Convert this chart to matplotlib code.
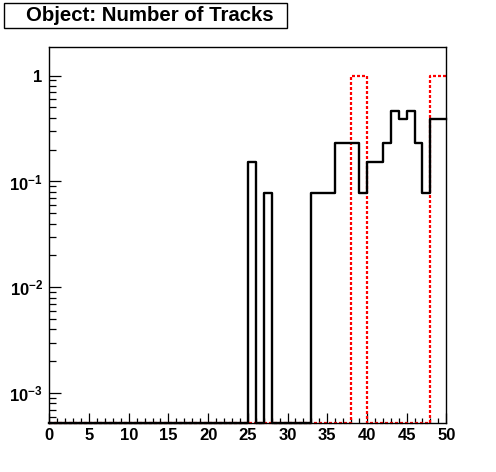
import numpy as np
import matplotlib
matplotlib.use("Agg")
import matplotlib.pyplot as plt
from matplotlib.ticker import FixedLocator, LogLocator, MultipleLocator
from matplotlib.patches import Rectangle

plt.rcParams['font.family'] = ['Liberation Sans', 'DejaVu Sans']
plt.rcParams['font.weight'] = 'bold'
plt.rcParams['mathtext.fontset'] = 'custom'
plt.rcParams['mathtext.rm'] = 'Liberation Sans:bold'
plt.rcParams['mathtext.bf'] = 'Liberation Sans:bold'
plt.rcParams['mathtext.it'] = 'Liberation Sans:bold'

title = "Object: Number of Tracks"

bin_edges = np.arange(0, 51, 1)
black_values = [0.0] * 25 + [
    0.154, 0.0, 0.077, 0.0, 0.0, 0.0, 0.0, 0.0,
    0.077, 0.077, 0.077, 0.23, 0.23, 0.23, 0.077,
    0.154, 0.154, 0.23, 0.46, 0.385, 0.46, 0.23, 0.077,
    0.385, 0.385]
red_values = [0.0] * 38 + [1.0, 1.0] + [0.0] * 8 + [1.0, 1.0]

y_ticks = [1e-3, 1e-2, 1e-1, 1.0]
y_tick_labels = [r'$10^{-3}$', r'$10^{-2}$', r'$10^{-1}$', r'$1$']
x_ticks = [0, 5, 10, 15, 20, 25, 30, 35, 40, 45, 50]

ymin, ymax = 5.2e-4, 1.85

W, H = 496, 472
fig = plt.figure(figsize=(W / 100, H / 100), dpi=100)
ax = fig.add_axes([49.3 / W, 1 - 423.3 / H, (446.3 - 49.3) / W, (423.3 - 47.3) / H])
ax.set_yscale('log')
ax.set_xlim(0, 50)
ax.set_ylim(ymin, ymax)

def step_xy(vals):
    v = np.maximum(np.asarray(vals, dtype=float), ymin)
    return bin_edges, np.append(v, v[-1])

xr, yr = step_xy(red_values)
ax.step(xr, yr, where='post', color='#ff0000', lw=1.6,
        linestyle=(0, (1.35, 0.9)), zorder=2, clip_on=False)
xb, yb = step_xy(black_values)
ax.step(xb, yb, where='post', color='black', lw=1.7, zorder=3, clip_on=False)

for s in ax.spines.values():
    s.set_linewidth(1.0)

ax.xaxis.set_major_locator(FixedLocator(x_ticks))
ax.xaxis.set_minor_locator(MultipleLocator(1))
ax.set_xticklabels([str(t) for t in x_ticks])
ax.yaxis.set_major_locator(FixedLocator(y_ticks))
ax.yaxis.set_minor_locator(LogLocator(base=10, subs=np.arange(2, 10)))
ax.set_yticklabels(y_tick_labels)
ax.yaxis.set_minor_formatter(plt.NullFormatter())

ax.tick_params(axis='x', which='major', direction='in', length=7.2, width=0.9,
               labelsize=12, pad=3.5, top=False)
ax.tick_params(axis='x', which='minor', direction='in', length=3.3, width=0.9, top=False)
ax.tick_params(axis='y', which='major', direction='in', length=8.8, width=0.9,
               labelsize=12, pad=4.5, right=False)
ax.tick_params(axis='y', which='minor', direction='in', length=4.8, width=0.9, right=False)
for lab in ax.get_xticklabels() + ax.get_yticklabels():
    lab.set_fontweight('bold')

fig.patches.append(Rectangle((3.5 / W, 1 - 28.3 / H), (287 - 3.5) / W, (28.3 - 2.7) / H,
                             transform=fig.transFigure, fill=False, ec='black', lw=1.0))
fig.text(150 / W, 1 - 15.5 / H, title, ha='center', va='center',
         fontsize=14.7, fontweight='bold')

fig.savefig('out.png', dpi=100)
